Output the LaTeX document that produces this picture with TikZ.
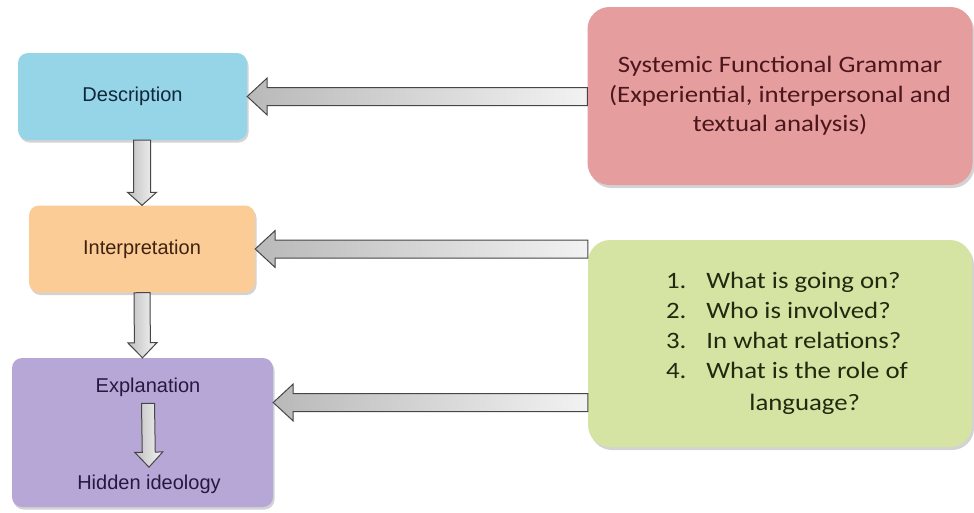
\documentclass[tikz,border=0pt]{standalone}
\usepackage{fontspec}
\setmainfont{Liberation Sans}
\newfontfamily\calfont[FakeStretch=1.14]{Carlito}
\usetikzlibrary{calc,shadows}

\definecolor{descfill}{RGB}{150,212,232}
\definecolor{interpfill}{RGB}{252,204,150}
\definecolor{explfill}{RGB}{183,167,214}
\definecolor{sfgfill}{RGB}{230,157,158}
\definecolor{qfill}{RGB}{213,228,163}
\definecolor{desctext}{RGB}{15,40,58}
\definecolor{interptext}{RGB}{62,35,15}
\definecolor{expltext}{RGB}{35,25,65}
\definecolor{sfgtext}{RGB}{75,22,28}
\definecolor{qtext}{RGB}{32,42,15}
\definecolor{arrowline}{RGB}{70,70,70}

\tikzset{
  stagebox/.style={rounded corners=10pt, inner sep=0pt, fill=#1,
    drop shadow={shadow xshift=1.5pt, shadow yshift=-2.5pt, opacity=0.35}},
  sidebox/.style={rounded corners=22pt, inner sep=0pt, fill=#1,
    drop shadow={shadow xshift=2pt, shadow yshift=-3pt, opacity=0.35}},
  stagelabel/.style={font=\fontsize{20}{24}\selectfont},
  sidelabel/.style={font=\calfont\fontsize{23.5}{29.5}\selectfont},
  % block arrow: shaft half width, head half width, head length
  fatarrow/.style n args={3}{draw=arrowline, line width=1pt, line join=miter,
    to path={
      let \p1=(\tikztostart), \p2=(\tikztotarget),
          \n1={atan2(\y2-\y1,\x2-\x1)} in
      ($(\p1)+(\n1+90:#1)$)
      -- ($(\p2)+(\n1+180:#3)+(\n1+90:#1)$)
      -- ($(\p2)+(\n1+180:#3)+(\n1+90:#2)$)
      -- (\p2)
      -- ($(\p2)+(\n1+180:#3)+(\n1-90:#2)$)
      -- ($(\p2)+(\n1+180:#3)+(\n1-90:#1)$)
      -- ($(\p1)+(\n1-90:#1)$) -- cycle
    }},
  harrow/.style={fatarrow={9pt}{18.5pt}{20pt}, left color=gray!55, right color=gray!10},
  varrow/.style={left color=gray!50, right color=gray!8, shading angle=90}
}

\begin{document}
\begin{tikzpicture}[x=1pt, y=-1pt]
  \useasboundingbox (0,0) rectangle (974,512);

  % Stages on the left
  \node[stagebox=descfill, stagelabel, text=desctext, minimum width=229pt, minimum height=87pt]
    (desc) at (132.5,96.5) {Description};
  \node[stagebox=interpfill, stagelabel, text=interptext, minimum width=226pt, minimum height=87pt]
    (interp) at (142,249) {Interpretation};
  \node[stagebox=explfill, minimum width=261pt, minimum height=149pt]
    (expl) at (142.5,432.5) {};
  \node[stagelabel, text=expltext] (explab) at (148,387) {Explanation};
  \node[stagelabel, text=expltext] (hidden) at (149,484) {Hidden ideology};

  % Boxes on the right
  \node[sidebox=sfgfill, sidelabel, text=sfgtext, align=center, minimum width=385pt, minimum height=178pt]
    (sfg) at (780,96) {Systemic Functional Grammar\\(Experiential, interpersonal and\\textual analysis)};
  \node[sidebox=qfill, sidelabel, text=qtext, minimum width=384pt, minimum height=207pt]
    (quest) at (780,343.5) {\hspace*{14pt}\fontsize{23.5}{30}\selectfont
      \begin{tabular}{@{}l@{\hspace{20pt}}l@{}}
        1. & What is going on?\\
        2. & Who is involved?\\
        3. & In what relations?\\
        4. & What is the role of\\[2pt]
           & \hspace*{43pt}language?
      \end{tabular}};

  % Arrows into the stages
  \coordinate (explin) at ([yshift=30pt]expl.east);
  \draw[harrow] (sfg.west |- desc.east) to (desc.east);
  \draw[harrow] (quest.west |- interp.east) to (interp.east);
  \draw[harrow] (quest.west |- explin) to (explin);

  % Arrows down the stages
  \draw[fatarrow={8.5pt}{14.5pt}{13pt}, varrow] (interp.north |- desc.south) to (interp.north);
  \draw[fatarrow={8pt}{14.5pt}{15pt}, varrow] (interp.south) to (expl.north);
  \draw[fatarrow={6.5pt}{14pt}{15pt}, varrow] ([yshift=-3.5pt]explab.south) to ([yshift=4pt]hidden.north);
\end{tikzpicture}
\end{document}
